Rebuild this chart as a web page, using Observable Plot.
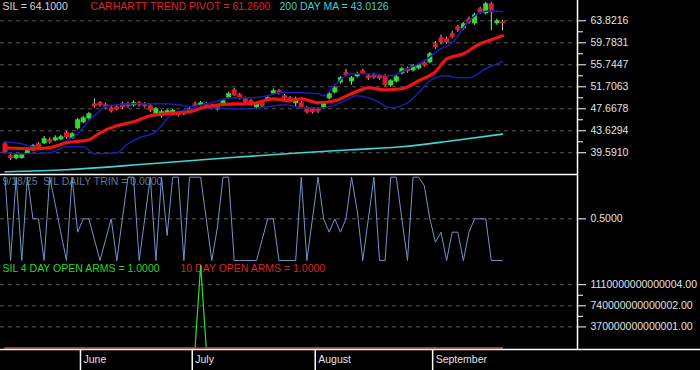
<!DOCTYPE html>
<html><head><meta charset="utf-8">
<script src="https://cdn.jsdelivr.net/npm/d3@7"></script>
<script src="https://cdn.jsdelivr.net/npm/@observablehq/plot@0.6"></script>
<style>
html,body{margin:0;padding:0;background:#000;overflow:hidden;}
#chart{position:relative;width:700px;height:370px;background:#000;}
#chart > div{position:absolute;left:0;}
#chart svg{overflow:visible;background:transparent;}
</style></head><body><div id="chart"></div>
<script>
// ---------- data ----------
const openP = [
 41.24,39.04,38.49,38.55,39.41,39.96,41.24,41.24,41.98,41.79,
 41.98,43.26,42.16,43.99,45.10,45.83,48.59,48.77,48.40,47.85,
 48.03,48.59,48.59,48.22,48.77,48.59,48.22,46.75,46.57,46.75,
 46.80,46.93,47.12,46.93,48.59,48.22,48.59,48.22,47.48,48.40,
 49.69,51.16,50.24,49.50,49.14,47.85,48.77,49.14,50.42,50.97,
 50.05,49.69,48.59,48.77,47.85,47.67,47.60,47.85,49.50,50.60,
 52.44,54.28,52.62,53.54,54.64,53.73,53.91,53.73,53.73,51.89,
 52.62,54.09,55.01,54.64,55.01,56.11,56.11,59.60,60.70,60.52,
 61.44,62.72,62.35,64.19,63.27,66.02,65.11,66.94,63.27,63.64];
const closeP = [
 39.59,38.49,39.22,39.25,39.96,40.87,40.32,42.16,41.42,42.34,
 42.53,42.34,43.08,45.65,46.01,46.75,48.03,48.22,47.85,47.12,
 47.48,47.85,48.03,48.77,48.22,48.03,47.30,47.67,47.12,47.30,
 47.35,46.38,46.57,47.67,48.03,48.77,47.85,47.67,48.03,49.14,
 50.42,50.05,49.50,48.77,48.40,48.59,48.03,49.69,50.97,50.42,
 49.50,49.14,49.50,47.85,46.93,46.93,47.10,48.77,50.42,51.52,
 53.36,53.73,53.36,54.09,54.09,53.17,53.36,53.17,51.89,52.81,
 53.54,55.01,54.46,55.56,55.74,55.56,57.76,58.86,59.78,59.78,
 60.70,61.99,63.27,63.45,64.92,65.29,66.94,65.29,63.82,63.27];
const highP = [
 41.6,39.3,39.5,39.5,40.2,41.1,41.5,42.6,42.3,42.7,
 42.8,43.5,43.3,45.9,46.3,47.0,49.5,49.0,48.7,48.1,
 48.3,48.9,48.9,49.1,49.0,48.8,48.5,47.9,47.4,47.6,
 47.6,47.2,47.4,47.9,48.9,49.0,48.8,48.5,48.3,49.4,
 50.7,51.4,50.5,49.8,49.4,48.9,49.0,50.0,51.3,51.2,
 50.3,49.9,49.8,49.0,48.1,47.9,47.9,49.0,50.7,51.8,
 53.6,54.9,53.6,54.4,54.9,54.0,54.2,54.0,54.0,53.0,
 53.8,55.3,55.3,55.8,56.0,56.6,58.0,60.0,61.2,60.8,
 61.9,63.0,63.5,64.5,65.2,66.3,67.2,67.2,64.1,63.9];
const lowP = [
 39.3,38.2,38.3,38.4,39.3,39.8,40.1,41.1,41.2,41.6,
 41.8,42.1,42.0,43.8,44.9,45.6,47.8,48.0,47.6,46.9,
 47.3,47.6,47.8,48.0,48.0,47.8,47.0,46.3,46.0,46.6,
 46.6,46.2,46.4,46.7,47.8,48.0,47.6,47.5,47.3,48.2,
 49.5,49.9,49.3,48.5,48.2,47.6,47.8,49.0,50.2,50.2,
 49.3,48.9,48.0,47.6,46.7,46.7,46.8,47.6,49.3,50.4,
 52.2,53.5,52.0,53.3,53.9,52.9,53.1,52.9,51.7,51.6,
 52.4,53.9,54.2,54.4,54.8,55.3,55.9,58.6,59.4,59.5,
 60.5,61.7,62.1,63.2,63.0,65.0,64.9,62.0,63.0,62.0];

const pivotIdx = [0,5,8,11,15,17,20,23,26,29,33,36,41,44,48,51,53,56,59,62,65,68,71,74,77,79,82,85,87,89];
const pivotVal = [40.51,40.32,40.51,41.42,41.97,43.26,44.54,45.28,46.38,46.75,47.12,48.03,48.58,48.58,49.50,49.13,49.50,48.77,49.13,50.42,51.52,51.15,51.34,52.81,54.46,56.84,57.76,59.60,60.33,61.07];
const upperIdx = [0,3,6,9,11,13,15,17,18,20,23,28,31,33,36,41,44,47,49,53,56,57,59,62,65,69,72,75,78,80,83,85,87,89];
const upperVal = [41.61,41.24,40.50,40.87,41.79,43.08,45.47,47.30,48.03,48.40,48.58,48.58,48.40,48.03,48.58,49.69,49.69,50.05,50.60,50.60,50.42,50.05,52.07,54.09,54.09,53.72,55.01,56.48,58.68,59.78,63.82,65.29,65.66,65.47];
const lowerIdx = [0,3,8,11,14,16,20,22,24,27,29,31,34,37,41,44,47,50,53,57,60,63,66,69,72,74,76,79,81,83,86,89];
const lowerVal = [39.59,39.41,39.59,40.69,40.69,39.41,39.59,41.24,42.34,43.44,45.83,47.12,47.67,47.85,47.67,47.67,48.03,48.40,47.85,47.85,48.77,50.05,49.32,47.85,48.77,50.60,52.81,53.72,53.36,53.36,55.01,56.30];
const maIdx = [0,11,26,40,53,62,71,80,89];
const maVal = [36.10,36.47,37.57,38.67,39.59,40.14,40.69,41.79,43.01];

const trin = [
 1,0,1,0,1,0.5,0.5,0,1,0.67,
 0.33,0,1,0.34,0.5,0.5,0.25,0,0.25,0.5,
 0,0.5,1,1,0,0.5,1,0,1,0.3,
 1,1,0,1,1,1,0.5,0,0.4,1,
 1,0,0,0,0,0,0.25,0.5,0.5,0,
 0,0,0,1,0,0.5,1,0.5,0.34,0.5,
 0.34,0.5,1,0.6,0,0.5,1,0,0,1,
 1,0.5,0,1,1,0.9,0.5,0.22,0.34,0,
 0.34,0.34,0,0.34,0.5,0.5,0.5,0,0,0];

const arms4 = [
 0,0,0,0,0,0,0,0,0,0,
 0,0,0,0,0,0,0,0,0,0,
 0,0,0,0,0,0,0,0,0,0,
 0,0,0,0,0,1455000000000000,0,0,0,0,
 0,0,0,0,0,0,0,0,0,0,
 0,0,0,0,0,0,0,0,0,0,
 0,0,0,0,0,0,0,0,0,0,
 0,0,0,0,0,0,0,0,0,0,
 0,0,0,0,0,0,0,0,0,0];
const arms10 = [
 0,0,0,0,0,0,0,0,0,0,
 0,0,0,0,0,0,0,0,0,0,
 0,0,0,0,0,0,0,0,0,0,
 0,0,0,0,0,0,0,0,0,0,
 0,0,0,0,0,0,0,0,0,0,
 0,0,0,0,0,0,0,0,0,0,
 0,0,0,0,0,0,0,0,0,0,
 0,0,0,0,0,0,0,0,0,0,
 0,0,0,0,0,0,0,0,0,0];

const priceTicks = [39.5910,43.6294,47.6678,51.7063,55.7447,59.7831,63.8216];
const priceMinor = [41.6102,45.6486,49.6871,53.7255,57.7639,61.8024];
const trinTicks = [0.5];
const armsTicks = [370000000000001,740000000000002,1110000000000004];
const armsMinor = [555000000000001.5,925000000000003];
const months = ["June","July","August","September"];
const monthStart = [14,34,56,77];

const titles1 = ["SIL = 64.1000","CARHARTT TREND PIVOT = 61.2600","200 DAY MA = 43.0126"];
const titleTrin = "9/18/25  SIL DAILY TRIN = 0.0000";
const titles3 = ["SIL 4 DAY OPEN ARMS = 1.0000","10 DAY OPEN ARMS = 1.0000"];

// ---------- layout ----------
const xDomain = [-0.805, 102.415];
const xFull = 125;
const yDomain1 = [35.60, 67.55];
const yDomain2 = [-0.024, 1.032];
const yDomain3 = [-26300000000000, 1499300000000000];
const FONT = "Liberation Sans, Arial, Helvetica, sans-serif";
const UP = "#2fdc2f", DOWN = "#d81e2e";
const TICKC = "#ffffff", LABC = "#e2e2e2", GRIDC = "#575757";

const bars = openP.map((o, i) => ({i, o, c: closeP[i], h: highP[i], l: lowP[i]}));
const pts = (ix, vs) => ix.map((x, k) => ({x, y: vs[k]}));
const pivot = pts(pivotIdx, pivotVal);
const upper = pts(upperIdx, upperVal);
const lower = pts(lowerIdx, lowerVal);
const ma = pts(maIdx, maVal);
const trinT = trin.map((y, x) => ({x, y}));
const a4 = arms4.map((y, x) => ({x, y}));
const a10 = arms10.map((y, x) => ({x, y}));

const base = (h) => ({
  width: 700, height: h, marginLeft: 0, marginRight: 123, marginTop: 0, marginBottom: 0,
  style: {background: "transparent", overflow: "visible", fontFamily: FONT, color: LABC},
  x: {domain: xDomain, range: [0, 577], axis: null}
});
const title = (s, dx, dy, fill) => Plot.text([s], {text: d => d, frameAnchor: "top-left", dx, dy,
  textAnchor: "start", lineAnchor: "middle", fill, fontSize: 10.5});

const p1 = Plot.plot({
  ...base(174),
  y: {domain: yDomain1, range: [174, 0], axis: null},
  marks: [
    Plot.ruleY(priceTicks, {stroke: GRIDC, strokeDasharray: "4,4"}),
    Plot.line(ma, {x: "x", y: "y", stroke: "#3fd6d6", strokeWidth: 1.6, curve: "monotone-x"}),
    Plot.ruleX(bars, {x: "i", y1: "l", y2: "h", stroke: "#c8c8c8", strokeWidth: 1}),
    Plot.ruleX(bars.filter(d => d.c >= d.o), {x: "i", y1: "o", y2: "c", stroke: UP, strokeWidth: 5}),
    Plot.ruleX(bars.filter(d => d.c < d.o), {x: "i", y1: "o", y2: "c", stroke: DOWN, strokeWidth: 5}),
    Plot.line(upper, {x: "x", y: "y", stroke: "#1c1cb0", strokeWidth: 1.5, curve: "monotone-x"}),
    Plot.line(lower, {x: "x", y: "y", stroke: "#1c1cb0", strokeWidth: 1.5, curve: "monotone-x"}),
    Plot.line(pivot, {x: "x", y: "y", stroke: "#ee1414", strokeWidth: 3.2, curve: "monotone-x"}),
    title(titles1[0], 2, 6.5, "#d6d6d6"),
    title(titles1[1], 90, 6.5, "#e0202a"),
    title(titles1[2], 279, 6.5, "#3fd0d0"),
    Plot.axisY(priceTicks, {anchor: "right", tickSize: 8, tickPadding: 5, tickFormat: d => d.toFixed(4),
      stroke: TICKC, fill: LABC, fontSize: 10.5, label: null}),
    Plot.axisY(priceMinor, {anchor: "right", tickSize: 5, tickFormat: () => "", stroke: TICKC, label: null}),
    Plot.ruleX([xDomain[1]], {stroke: "white", strokeWidth: 1.5}),
    Plot.ruleY([yDomain1[0]], {stroke: "white", strokeWidth: 1.5})
  ]
});

const p2 = Plot.plot({
  ...base(88),
  y: {domain: yDomain2, range: [88, 0], axis: null},
  marks: [
    title(titleTrin, 2, 7.5, "#5a7aa2"),
    Plot.ruleY(trinTicks, {stroke: GRIDC, strokeDasharray: "4,4"}),
    Plot.line(trinT, {x: "x", y: "y", stroke: "#7096c8", strokeWidth: 1}),
    Plot.axisY(trinTicks, {anchor: "right", tickSize: 8, tickPadding: 5, tickFormat: d => d.toFixed(4),
      stroke: TICKC, fill: LABC, fontSize: 10.5, label: null}),
    Plot.ruleX([xDomain[1]], {stroke: "white", strokeWidth: 1.5})
  ]
});

const p3 = Plot.plot({
  ...base(87),
  y: {domain: yDomain3, range: [87, 0], axis: null},
  marks: [
    Plot.ruleY(armsTicks, {stroke: GRIDC, strokeDasharray: "4,4"}),
    title(titles3[0], 2, 6.5, "#26d926"),
    title(titles3[1], 180, 6.5, "#dd2424"),
    Plot.line(a4, {x: "x", y: "y", stroke: "#2ee02e", strokeWidth: 1.2}),
    Plot.line(a10, {x: "x", y: "y", stroke: "#dd1f1f", strokeWidth: 1.6}),
    Plot.axisY(armsTicks, {anchor: "right", tickSize: 8, tickPadding: 5, tickFormat: d => d.toFixed(2),
      stroke: TICKC, fill: LABC, fontSize: 10.5, label: null}),
    Plot.axisY(armsMinor, {anchor: "right", tickSize: 5, tickFormat: () => "", stroke: TICKC, label: null}),
    Plot.ruleX([xDomain[1]], {stroke: "white", strokeWidth: 1.5}),
    Plot.ruleY([yDomain3[0]], {x1: xDomain[0], x2: xFull, stroke: "white", strokeWidth: 1.5})
  ]
});

const p4 = Plot.plot({
  ...base(21),
  marks: [
    Plot.ruleX(monthStart, {x: d => d - 0.5, stroke: "white", strokeWidth: 1.5}),
    Plot.text(months, {x: (d, k) => monthStart[k] - 0.5, text: d => d, frameAnchor: "middle",
      textAnchor: "start", dx: 3, fill: LABC, fontSize: 10.5})
  ]
});

const chart = document.getElementById("chart");
[[p1, 0], [p2, 174], [p3, 262], [p4, 349]].forEach(([p, top]) => {
  const d = document.createElement("div");
  d.style.top = top + "px";
  d.appendChild(p);
  chart.appendChild(d);
});
</script></body></html>
